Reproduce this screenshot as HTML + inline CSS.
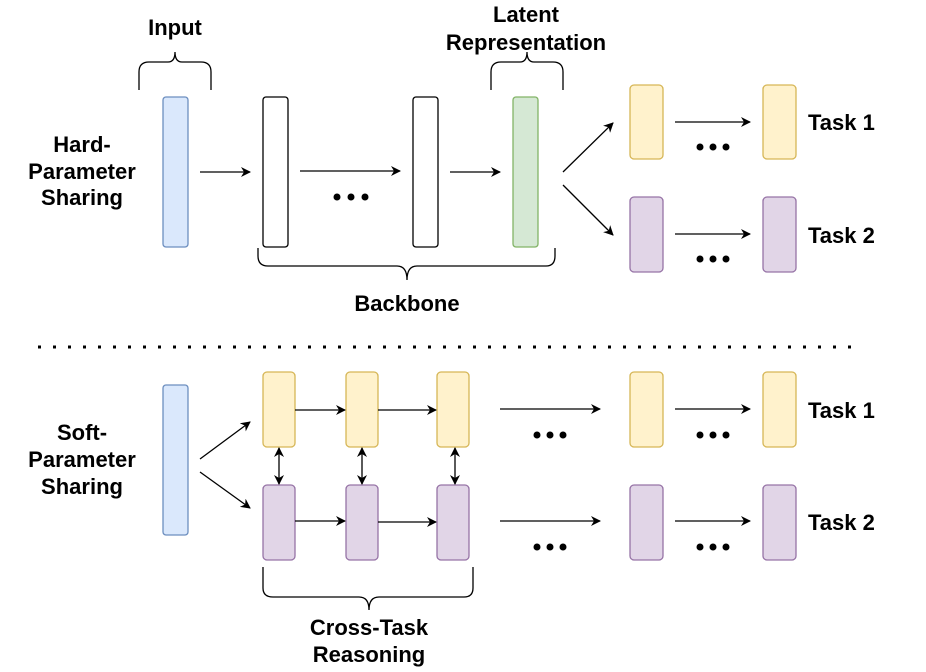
<!DOCTYPE html>
<html><head><meta charset="utf-8"><style>
html,body{margin:0;padding:0;background:#fff;}
svg{display:block;}
text{font-family:"Liberation Sans",Arial,sans-serif;font-weight:bold;font-size:22px;fill:#000;}
.c{text-anchor:middle;}
.s{text-anchor:start;}
</style></head><body>
<svg width="926" height="672" viewBox="0 0 926 672" xmlns="http://www.w3.org/2000/svg">
<defs>
<marker id="a" markerWidth="10" markerHeight="10" refX="9" refY="5" orient="auto" markerUnits="userSpaceOnUse">
<path d="M0,0 L10,5 L0,10 L3,5 z" fill="#000"/></marker>
<marker id="b" markerWidth="10" markerHeight="10" refX="1" refY="5" orient="auto" markerUnits="userSpaceOnUse">
<path d="M10,0 L0,5 L10,10 L7,5 z" fill="#000"/></marker>
</defs>
<g stroke-width="1.3">
<rect x="163" y="97" width="25" height="150" rx="3" fill="#dae8fc" stroke="#6c8ebf"/>
<rect x="263" y="97" width="25" height="150" rx="3" fill="#fff" stroke="#000"/>
<rect x="413" y="97" width="25" height="150" rx="3" fill="#fff" stroke="#000"/>
<rect x="513" y="97" width="25" height="150" rx="3" fill="#d5e8d4" stroke="#82b366"/>
<rect x="630" y="85" width="33" height="74" rx="4" fill="#fff2cc" stroke="#d6b656"/>
<rect x="763" y="85" width="33" height="74" rx="4" fill="#fff2cc" stroke="#d6b656"/>
<rect x="630" y="197" width="33" height="75" rx="4" fill="#e1d5e7" stroke="#9673a6"/>
<rect x="763" y="197" width="33" height="75" rx="4" fill="#e1d5e7" stroke="#9673a6"/>
</g>
<g stroke="#000" stroke-width="1.3" fill="none">
<line x1="200" y1="172" x2="250" y2="172" marker-end="url(#a)"/>
<line x1="300" y1="171" x2="400" y2="171" marker-end="url(#a)"/>
<line x1="450" y1="172" x2="500" y2="172" marker-end="url(#a)"/>
<line x1="563" y1="172" x2="613" y2="123" marker-end="url(#a)"/>
<line x1="563" y1="185" x2="613" y2="235" marker-end="url(#a)"/>
<line x1="675" y1="122" x2="750" y2="122" marker-end="url(#a)"/>
<line x1="675" y1="234" x2="750" y2="234" marker-end="url(#a)"/>
<path d="M139,90 V72 Q139,62 149,62 H168 Q175,62 175,52 Q175,62 182,62 H201 Q211,62 211,72 V90"/>
<path d="M491,90 V72 Q491,62 501,62 H520 Q527,62 527,52 Q527,62 534,62 H553 Q563,62 563,72 V90"/>
<path d="M258,248 V256 Q258,266 268,266 H397 Q407,266 407,280 Q407,266 417,266 H546 Q555,266 555,256 V248"/>
<path d="M263,567 V588 Q263,597 273,597 H359 Q369,597 369,610 Q369,597 379,597 H464 Q473,597 473,588 V567"/>
</g>
<g fill="#000">
<circle cx="337" cy="197" r="3.5"/><circle cx="351" cy="197" r="3.5"/><circle cx="365" cy="197" r="3.5"/>
<circle cx="700" cy="147" r="3.5"/><circle cx="713" cy="147" r="3.5"/><circle cx="726" cy="147" r="3.5"/>
<circle cx="700" cy="259" r="3.5"/><circle cx="713" cy="259" r="3.5"/><circle cx="726" cy="259" r="3.5"/>
<circle cx="537" cy="435" r="3.5"/><circle cx="550" cy="435" r="3.5"/><circle cx="563" cy="435" r="3.5"/>
<circle cx="537" cy="547" r="3.5"/><circle cx="550" cy="547" r="3.5"/><circle cx="563" cy="547" r="3.5"/>
<circle cx="700" cy="435" r="3.5"/><circle cx="713" cy="435" r="3.5"/><circle cx="726" cy="435" r="3.5"/>
<circle cx="700" cy="547" r="3.5"/><circle cx="713" cy="547" r="3.5"/><circle cx="726" cy="547" r="3.5"/>
</g>
<line x1="38" y1="347" x2="852" y2="347" stroke="#000" stroke-width="3" stroke-dasharray="3 12"/>
<g stroke-width="1.3">
<rect x="163" y="385" width="25" height="150" rx="3" fill="#dae8fc" stroke="#6c8ebf"/>
<rect x="263" y="372" width="32" height="75" rx="4" fill="#fff2cc" stroke="#d6b656"/>
<rect x="346" y="372" width="32" height="75" rx="4" fill="#fff2cc" stroke="#d6b656"/>
<rect x="437" y="372" width="32" height="75" rx="4" fill="#fff2cc" stroke="#d6b656"/>
<rect x="263" y="485" width="32" height="75" rx="4" fill="#e1d5e7" stroke="#9673a6"/>
<rect x="346" y="485" width="32" height="75" rx="4" fill="#e1d5e7" stroke="#9673a6"/>
<rect x="437" y="485" width="32" height="75" rx="4" fill="#e1d5e7" stroke="#9673a6"/>
<rect x="630" y="372" width="33" height="75" rx="4" fill="#fff2cc" stroke="#d6b656"/>
<rect x="763" y="372" width="33" height="75" rx="4" fill="#fff2cc" stroke="#d6b656"/>
<rect x="630" y="485" width="33" height="75" rx="4" fill="#e1d5e7" stroke="#9673a6"/>
<rect x="763" y="485" width="33" height="75" rx="4" fill="#e1d5e7" stroke="#9673a6"/>
</g>
<g stroke="#000" stroke-width="1.3" fill="none">
<line x1="200" y1="459" x2="250" y2="422" marker-end="url(#a)"/>
<line x1="200" y1="472" x2="250" y2="508" marker-end="url(#a)"/>
<line x1="295" y1="410" x2="345" y2="410" marker-end="url(#a)"/>
<line x1="378" y1="410" x2="436" y2="410" marker-end="url(#a)"/>
<line x1="295" y1="521" x2="345" y2="521" marker-end="url(#a)"/>
<line x1="378" y1="522" x2="436" y2="522" marker-end="url(#a)"/>
<line x1="279" y1="448" x2="279" y2="484" marker-start="url(#b)" marker-end="url(#a)"/>
<line x1="362" y1="448" x2="362" y2="484" marker-start="url(#b)" marker-end="url(#a)"/>
<line x1="455" y1="448" x2="455" y2="484" marker-start="url(#b)" marker-end="url(#a)"/>
<line x1="500" y1="409" x2="600" y2="409" marker-end="url(#a)"/>
<line x1="500" y1="521" x2="600" y2="521" marker-end="url(#a)"/>
<line x1="675" y1="409" x2="750" y2="409" marker-end="url(#a)"/>
<line x1="675" y1="521" x2="750" y2="521" marker-end="url(#a)"/>
</g>
<text class="c" x="175" y="35">Input</text>
<text class="c" x="526" y="22">Latent</text>
<text class="c" x="526" y="50">Representation</text>
<text class="c" x="407" y="311">Backbone</text>
<text class="c" x="369" y="635">Cross-Task</text>
<text class="c" x="369" y="662">Reasoning</text>
<text class="c" x="82" y="152">Hard-</text>
<text class="c" x="82" y="179">Parameter</text>
<text class="c" x="82" y="205">Sharing</text>
<text class="c" x="82" y="440">Soft-</text>
<text class="c" x="82" y="467">Parameter</text>
<text class="c" x="82" y="494">Sharing</text>
<text class="s" x="808" y="130">Task 1</text>
<text class="s" x="808" y="243">Task 2</text>
<text class="s" x="808" y="418">Task 1</text>
<text class="s" x="808" y="530">Task 2</text>
</svg>
</body></html>
